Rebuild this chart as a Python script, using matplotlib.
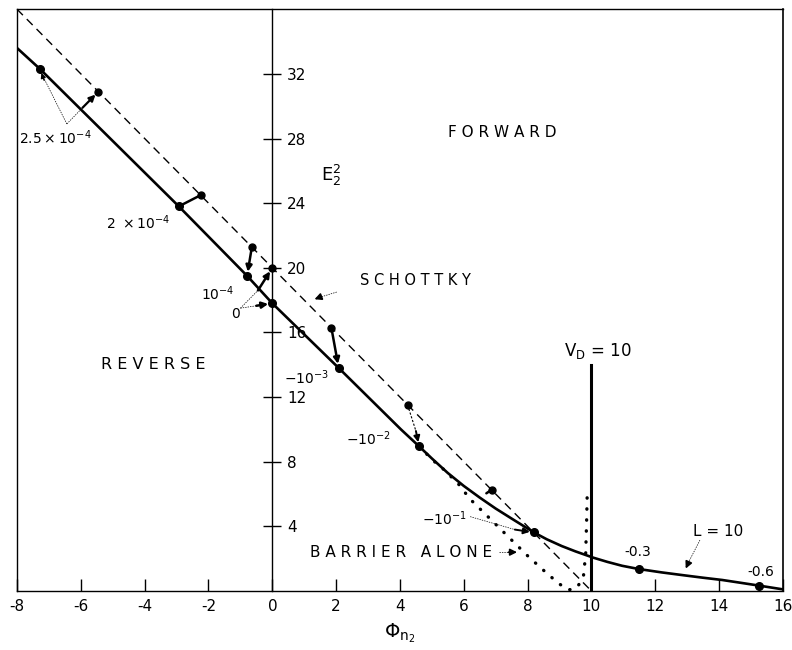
import matplotlib.pyplot as plt

plt.rcParams['font.family'] = 'DejaVu Sans'
plt.rcParams['mathtext.default'] = 'regular'
plt.rcParams['axes.unicode_minus'] = False

# Curva completa con L = 10 (trazo continuo)
phi_L = [-8, -7.28, -2.93, -0.79, 0, 2.08, 4.03, 4.6, 5.0, 5.5, 6.0, 6.5, 7.0,
         7.5, 8.2, 8.6, 9.07, 9.5, 10.06, 10.5, 10.96, 11.48, 12.2, 12.9, 13.5,
         14.1, 14.7, 15.26, 16]
e2_L = [33.6, 32.3, 23.8, 19.5, 17.8, 13.8, 10.0, 8.95, 8.2, 7.3, 6.5, 5.78,
        5.1, 4.48, 3.62, 3.2, 2.78, 2.45, 2.06, 1.8, 1.56, 1.36, 1.15, 0.97,
        0.82, 0.68, 0.5, 0.33, 0.1]

# Schottky (recta a trazos)
phi_S = [-8, 10]
e2_S = [36, 0]

# Barrera sola (punteada)
phi_B = [4.6, 5.03, 5.4, 5.87, 6.18, 6.55, 7.08, 7.5, 8.03, 8.55, 8.97, 9.28,
         9.55, 9.75, 9.82, 9.85, 9.87]
e2_B = [8.95, 8.09, 7.47, 6.54, 5.72, 5.0, 3.97, 3.15, 2.12, 1.19, 0.47, 0.06,
        0.2, 0.9, 2.3, 4.4, 6.2]

# Puntos marcados (densidad de corriente)
dot_L_phi = [-7.28, -2.93, -0.79, 0, 2.08, 4.6, 8.2, 11.48, 15.26]
dot_L_e2 = [32.3, 23.8, 19.5, 17.8, 13.8, 8.95, 3.62, 1.36, 0.33]
dot_S_phi = [-5.45, -2.24, -0.64, 0, 1.85, 4.24, 6.87]
dot_S_e2 = [30.9, 24.5, 21.3, 20.0, 16.3, 11.5, 6.26]

j_text = [r'$2.5\times10^{-4}$', r'$2\ \times10^{-4}$', r'$10^{-4}$', '0',
          r'$-10^{-3}$', r'$-10^{-2}$', r'$-10^{-1}$', '-0.3', '-0.6']
j_phi = [-6.8, -4.2, -1.72, -1.15, 1.08, 3.0, 5.4, 11.46, 15.3]
j_e2 = [28.05, 22.8, 18.4, 17.15, 13.2, 9.4, 4.45, 2.4, 1.2]

VD = 10
VD_top = 14.0

x_ticks = list(range(-8, 17, 2))
y_ticks = list(range(4, 33, 4))

fig = plt.figure(figsize=(7.92, 6.5), dpi=100)
ax = fig.add_axes([0.0215, 0.0908, 0.967, 0.895])
ax.set_xlim(-8, 16)
ax.set_ylim(0, 36)

ax.plot(phi_L, e2_L, color='k', lw=1.9, solid_capstyle='round',
        solid_joinstyle='round')
ax.plot(phi_S, e2_S, color='k', lw=1.0, ls=(0, (6, 4)))
ax.plot(phi_B, e2_B, color='k', lw=2.4, ls=(0, (0.1, 3.2)),
        dash_capstyle='round')
ax.plot(dot_L_phi, dot_L_e2, 'o', color='k', ms=5.5)
ax.plot(dot_S_phi, dot_S_e2, 'o', color='k', ms=5.0)
ax.plot([VD, VD], [0, VD_top], color='k', lw=2.2)


def flecha(p0, p1, lw=1.6, head=True, ms=9):
    style = '-|>' if head else '-'
    ax.annotate('', xy=p1, xytext=p0,
                arrowprops=dict(arrowstyle=style, color='k', lw=lw,
                                mutation_scale=ms, shrinkA=0, shrinkB=3))


def guia(p0, p1, lw=0.5):
    ax.plot([p0[0], p1[0]], [p0[1], p1[1]], color='k', lw=lw, ls=(0, (2, 1.5)))


# 2.5e-4
guia((-6.44, 28.9), (-7.2, 31.9))
flecha((-7.15, 31.6), (-7.28, 32.3), lw=1.0, ms=7)
guia((-6.44, 28.9), (-5.95, 29.9))
flecha((-5.95, 29.9), (-5.45, 30.9), lw=1.6)
# 2e-4
flecha((dot_S_phi[1], dot_S_e2[1]), (dot_L_phi[1], dot_L_e2[1]), lw=1.8, head=False)
# 1e-4
flecha((dot_S_phi[2], dot_S_e2[2]), (dot_L_phi[2], dot_L_e2[2]), lw=1.8)
# 0
guia((-1.0, 17.5), (-0.45, 18.6))
flecha((-0.45, 18.6), (0, 20.0), lw=1.8)
guia((-1.0, 17.5), (-0.5, 17.65))
flecha((-0.5, 17.65), (0, 17.8), lw=1.8)
# -1e-3
flecha((dot_S_phi[4], dot_S_e2[4]), (dot_L_phi[4], dot_L_e2[4]), lw=1.8)
# -1e-2
guia((dot_S_phi[5], dot_S_e2[5]), (4.5, 9.9), lw=0.8)
flecha((4.5, 9.9), (dot_L_phi[5], dot_L_e2[5]), lw=1.4)
# -1e-1
flecha((dot_S_phi[6], dot_S_e2[6]), (6.6, 5.9), lw=1.8, head=False)
guia((6.2, 4.6), (7.6, 3.8))
flecha((7.6, 3.8), (8.2, 3.62), lw=1.4)

for t, x, y in zip(j_text, j_phi, j_e2):
    ax.text(x, y, t, fontsize=10, ha='center', va='center')

# Rotulos de regiones
ax.text(7.2, 28.4, 'F O R W A R D', fontsize=11, ha='center', va='center')
ax.text(-3.73, 14.0, 'R E V E R S E', fontsize=11.5, ha='center', va='center')
ax.text(4.5, 19.2, 'S C H O T T K Y', fontsize=10.5, ha='center', va='center')
ax.text(4.05, 2.4, 'B A R R I E R   A L O N E', fontsize=11, ha='center',
        va='center')
ax.text(1.83, 25.7, r'$E_2^2$', fontsize=13, ha='center', va='center')
ax.text(10.2, 14.85, r'$V_D$ = 10', fontsize=12, ha='center', va='center')
ax.text(13.98, 3.66, 'L = 10', fontsize=11, ha='center', va='center')

guia((2.02, 18.5), (1.45, 18.15))
flecha((1.45, 18.15), (1.2, 17.96), lw=1.2, ms=10)
guia((7.1, 2.4), (7.4, 2.4))
flecha((7.4, 2.4), (7.8, 2.4), lw=1.2, ms=10)
guia((13.4, 3.15), (13.05, 1.8))
flecha((13.05, 1.8), (12.9, 1.15), lw=1.2, ms=10)

# Ejes: eje vertical en Phi = 0, recuadro exterior
ax.spines['right'].set_position(('data', 0))
ax.yaxis.tick_right()
ax.set_yticks(y_ticks)
ax.tick_params(axis='y', direction='inout', length=13, width=1, labelsize=11,
               pad=4)
ax.set_xticks(x_ticks)
ax.tick_params(axis='x', direction='in', length=9, width=1, labelsize=11,
               pad=6)
ax.axvline(16, color='k', lw=1.2, clip_on=False)
for s in ['left', 'top', 'bottom', 'right']:
    ax.spines[s].set_linewidth(1.0)

ax.set_xlabel(r'$\Phi_{n_2}$', fontsize=14, labelpad=5)

fig.savefig('out.png', dpi=100)
